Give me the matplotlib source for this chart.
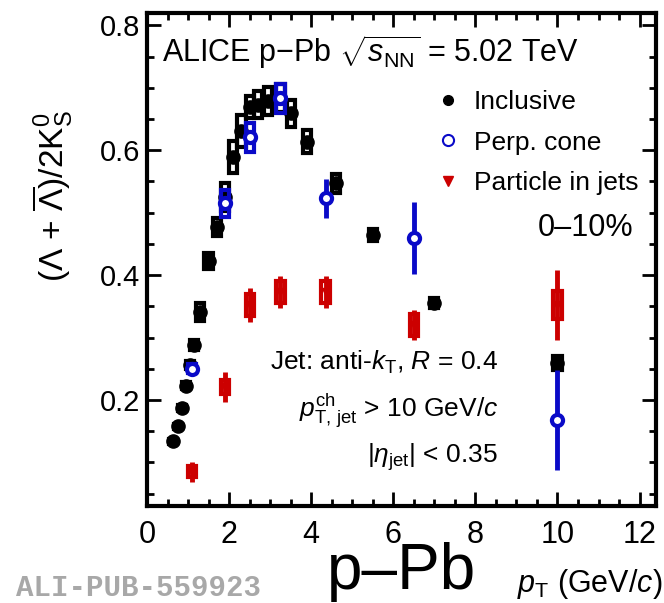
import numpy as np
import matplotlib
matplotlib.use('Agg')
import matplotlib.pyplot as plt
from matplotlib.patches import Rectangle
from matplotlib.lines import Line2D
from matplotlib.ticker import MultipleLocator

###########################################################################################################################
# Fonts (ROOT-like Helvetica look)
plt.rcParams['font.family'] = ['Liberation Sans', 'DejaVu Sans']
plt.rcParams['mathtext.fontset'] = 'custom'
plt.rcParams['mathtext.rm'] = 'Liberation Sans'
plt.rcParams['mathtext.it'] = 'Liberation Sans:italic'
plt.rcParams['mathtext.bf'] = 'Liberation Sans:bold'

###########################################################################################################################
# Data
## Inclusive
incl_pt = [0.63, 0.76, 0.85, 0.95, 1.05, 1.15, 1.3, 1.5, 1.7, 1.9, 2.1, 2.3, 2.5, 2.7, 2.95, 3.25, 3.5, 3.9, 4.6, 5.5, 7.0, 10.0]
incl_ratio = [0.134, 0.158, 0.187, 0.223, 0.256, 0.288, 0.341, 0.422, 0.477, 0.525, 0.589, 0.631, 0.669, 0.673, 0.679, 0.684, 0.659, 0.614, 0.547, 0.464, 0.355, 0.259]
incl_sys = [0.004, 0.004, 0.005, 0.006, 0.007, 0.008, 0.015, 0.013, 0.015, 0.023, 0.026, 0.025, 0.018, 0.022, 0.022, 0.022, 0.021, 0.019, 0.015, 0.010, 0.008, 0.011]

## Perpendicular cone
perp_pt = [1.1, 1.9, 2.5, 3.25, 4.35, 6.5, 10.0]
perp_ratio = [0.250, 0.515, 0.621, 0.683, 0.523, 0.459, 0.168]
perp_stat = [0.004, 0.010, 0.010, 0.010, 0.031, 0.058, 0.080]
perp_sys = [0.007, 0.022, 0.023, 0.023, 0.0, 0.0, 0.0]

## Particle in jets
jet_pt = [1.1, 1.9, 2.5, 3.25, 4.35, 6.5, 10.0]
jet_ratio = [0.085, 0.221, 0.352, 0.373, 0.373, 0.320, 0.352]
jet_stat = [0.016, 0.024, 0.027, 0.025, 0.025, 0.024, 0.056]
jet_sys = [0.009, 0.0115, 0.018, 0.017, 0.017, 0.0175, 0.023]

black = '#000000'
blue = '#0a0ac8'
red = '#cc0000'

###########################################################################################################################
# Definitions
def draw_boxes(ax, x, y, sys, color, z):
    """ Draws open systematic boxes with thick edges. """
    for xi, yi, si in zip(x, y, sys):
        if si <= 0:
            continue
        ax.add_patch(Rectangle((xi - 0.1, yi - si), 0.2, 2 * si, fill=False,
                               edgecolor=color, linewidth=3, zorder=z))

###########################################################################################################################
# Figure
fig = plt.figure(figsize=(6.64, 6.03), dpi=100)
ax = fig.add_axes([147 / 664, 1 - 506 / 603, 509 / 664, 493 / 603])

## Inclusive
draw_boxes(ax, incl_pt, incl_ratio, incl_sys, black, 2)
ax.plot(incl_pt, incl_ratio, 'o', color=black, ms=9.5, zorder=3)

## Particle in jets
draw_boxes(ax, jet_pt, jet_ratio, jet_sys, red, 4)
ax.errorbar(jet_pt, jet_ratio, yerr=jet_stat, fmt='v', color=red, ms=6, elinewidth=3.5, capsize=0, zorder=5)

## Perpendicular cone
draw_boxes(ax, perp_pt, perp_ratio, perp_sys, blue, 6)
ax.errorbar(perp_pt, perp_ratio, yerr=perp_stat, fmt='o', color=blue, mfc='white', mec=blue,
            ms=8, mew=3, elinewidth=3.5, capsize=0, zorder=7)

## Axes style
ax.set_xlim(0, 12.4)
ax.set_ylim(0.03, 0.82)
ax.xaxis.set_major_locator(MultipleLocator(2))
ax.xaxis.set_minor_locator(MultipleLocator(0.5))
ax.yaxis.set_major_locator(MultipleLocator(0.2))
ax.yaxis.set_minor_locator(MultipleLocator(0.05))
ax.tick_params(which='both', direction='in', top=True, right=True, width=2)
ax.tick_params(which='major', length=10)
ax.tick_params(which='minor', length=5)
ax.tick_params(axis='x', labelsize=22, pad=10)
ax.tick_params(axis='y', labelsize=21, pad=5)
for s in ax.spines.values():
    s.set_linewidth(3)

## Legend
handles = [Line2D([], [], ls='none', marker='o', color=black, ms=7),
           Line2D([], [], ls='none', marker='o', mfc='white', mec=blue, mew=1.5, ms=8),
           Line2D([], [], ls='none', marker='v', color=red, ms=7)]
ax.legend(handles, ['Inclusive', 'Perp. cone', 'Particle in jets'], loc='upper left',
          bbox_to_anchor=(0.57, 0.844), frameon=False, fontsize=19, handlelength=0.8,
          handletextpad=0.6, labelspacing=0.63, borderpad=0, borderaxespad=0)

## Texts
ax.text(0.0295, 0.9, r'ALICE p$-$Pb $\sqrt{s_{\rm NN}}$ = 5.02 TeV', transform=ax.transAxes,
        fontsize=22, ha='left', va='baseline')
ax.text(0.955, 0.564, '0–10%', transform=ax.transAxes, fontsize=22, ha='right', va='center')
ax.text(0.69, 0.276, r'Jet: anti-$k_{\rm T}$, $R$ = 0.4', transform=ax.transAxes,
        fontsize=19, ha='right', va='baseline')
ax.text(0.69, 0.18, r'$p_{\rm T,\,jet}^{\rm ch}$ > 10 GeV/$c$', transform=ax.transAxes,
        fontsize=19, ha='right', va='baseline')
ax.text(0.69, 0.087, r'|$\eta_{\rm jet}$| < 0.35', transform=ax.transAxes,
        fontsize=19, ha='right', va='baseline')

fig.text(53 / 664, 1 - 196 / 603, r'($\Lambda$ + $\overline{\Lambda}$)/2K$^{0}_{\rm S}$',
         rotation=90, fontsize=24, ha='center', va='center')
fig.text(662 / 664, 1 - 592 / 603, r'$p_{\rm T}$ (GeV/$c$)', fontsize=22, ha='right', va='baseline')
fig.text(402 / 664, 1 - 589 / 603, 'p–Pb', fontsize=46, ha='center', va='baseline')
fig.text(16 / 664, 1 - 588 / 603, 'ALI-PUB-559923', fontsize=21, ha='left', va='center',
         family='Liberation Mono', weight='bold', color='#a8a8a8')

fig.savefig('out.png', dpi=100)
